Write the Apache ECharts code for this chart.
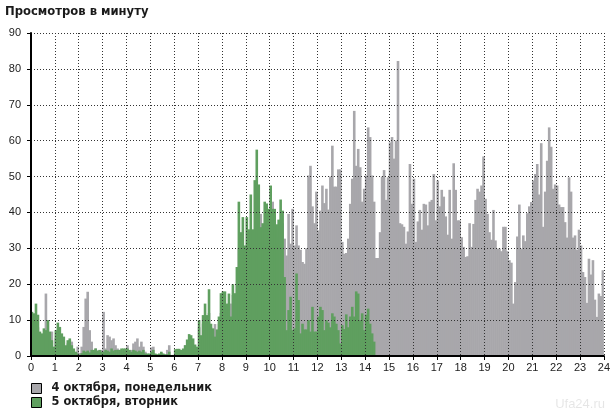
<!DOCTYPE html>
<html><head><meta charset="utf-8">
<script src="https://cdn.jsdelivr.net/npm/echarts@6/dist/echarts.min.js"></script>
<style>html,body{margin:0;padding:0;background:#fff}#c{width:613px;height:417px}</style>
</head><body><div id="c"></div>
<script>
const titleText = 'Просмотров в минуту';
const seriesNames = ['4 октября, понедельник', '5 октября, вторник'];
const hourLabels = ['0','1','2','3','4','5','6','7','8','9','10','11','12','13','14','15','16','17','18','19','20','21','22','23','24'];
const yTicks = [0,10,20,30,40,50,60,70,80,90];

// 5-minute slots, 12 per hour
const monday = [
 10,9,11,8,5,5,6,17.4,10,6,6.8,2,
 5,7,6,5,4,2.5,3.5,4.5,4,1.8,1,2.6,
 0.8,2.6,8.1,16,17.9,7.2,4,1.5,2.1,1.5,1.2,1.7,
 12.3,2.1,5.8,5.4,4.4,4.9,3.0,2.1,1.7,1.5,1.2,1.5,
 3.0,1.5,1.7,3.5,4.0,4.9,2.6,4.0,2.6,1.2,0.5,0.5,
 2.4,2.6,0.5,0.3,0.5,1.0,0.5,0.3,1.7,3.0,0.2,0.2,
 1.5,1.5,1.5,1.2,1.5,3.0,3,4,4,3,2.5,2,
 8,5,9,10,9,12,8,7,8.9,6,9,12,
 12,14,12,14.6,14.6,17,15,20,30,28,30,27,
 30,30,32,33,35,38,35,39.6,33,36,35,34,
 40,43,38,33,35,38,37,32.7,28,39.6,31.3,41,
 30.8,36.4,30.8,29.6,26.2,25.7,30,50.3,53,41.7,37,45.8,
 35,40.5,47.5,42.6,46.6,40.8,50,58.6,47.2,47.2,52,52,
 31.8,28.5,28.7,32.7,42.4,49.4,68.3,53,57.7,52.6,43,46.6,
 50.3,63.7,61,50.3,43,27.3,27.3,34.5,50,51.8,43.5,49.8,
 59.5,61,55,60,82.2,37,36.7,36,31.3,34.7,53.5,42.4,
 49.4,31.8,37.5,40.7,35.2,42.4,42.2,36.4,43,43.5,50.7,37.8,
 48.9,41.7,46.3,44.4,38.9,33.8,46.3,32.7,53.7,46.3,37.8,37.8,
 33.1,30.4,27.6,27.8,37,30.4,36.8,43.5,46.6,45.8,47.5,55.6,
 43.8,39.6,34.5,32.4,40.7,32.2,29.9,29.9,29.2,36,36,29.2,
 26.7,26,14.6,20.6,33.3,42.2,29.9,33.6,32,39.8,41.7,42.9,
 48.9,50.7,53.5,45,59.3,36,45.8,54.4,63.7,58.3,46.6,47.8,
 47.5,42.2,41.5,41.5,37.3,33,49.8,45.8,33,33.6,29.6,35.2,
 30.8,23.4,22,14.8,27.1,22.7,26.7,15.7,10.9,17.4,16.7,23.9
];
const tuesday = [
 12.3,11.9,14.6,11.5,6.8,6.3,7.7,7.2,10,6.8,4.4,2.6,
 7.2,9.3,8.1,6.3,5.4,3,4.4,4.9,3,2.1,1.2,0.7,
 0.3,0.8,1.5,1.2,1.5,1.0,1.7,1.7,2.1,1.5,1.7,1.2,
 1.2,1.7,1.5,1.2,2.1,1.5,1.7,1.7,1.7,2.1,2.1,2.1,
 2.1,1.7,1.2,1.7,1.5,1.2,1.5,1.2,1.7,0.7,0.7,0.7,
 1.2,1.7,0.7,0.5,0.7,1.2,0.7,0.5,0.5,1.2,0.3,0.3,
 1.9,2.0,2.0,1.7,2.1,3.0,4.6,6.1,5.8,4.9,3.2,2.6,
 10,5.8,11.4,14.6,11.4,18.6,9,7.7,5.4,7.4,11,17.5,
 18,18,14.6,17.4,11,20,17.5,24.8,43,34.5,38.7,30.8,
 38.7,35.3,45,35.3,49,57.5,47.8,35.9,37,43,42.5,41,
 47.5,41,41,36.7,38,43.6,40.5,22,7.2,12.8,16.5,7.2,
 7.7,23,15.6,6.3,9,7.4,7.4,10,6.8,13.7,6.8,6.8,
 11,13.7,12.8,7.2,10,9.3,8,11.9,11,9,7.2,3.5,
 8.6,7.5,11.6,8,11,13.7,11,18,17.4,10,11.9,7.2,
 11.5,13.2,9,6.3,4
];

const slots = [];
for (let h = 0; h < 24; h++) for (let m = 0; m < 60; m += 5)
  slots.push(String(h).padStart(2,'0') + ':' + String(m).padStart(2,'0'));

const grayC = '#a8a7ab', greenC = '#5f9f5f';
const labelFont = {fontFamily: 'Liberation Sans, Arial, sans-serif', fontSize: 11, color: '#222'};
const dotted = {color: '#333', width: 1, type: [1, 2]};

const chart = echarts.init(document.getElementById('c'), null, {renderer: 'canvas'});
chart.setOption({
  animation: false,
  backgroundColor: '#fff',
  title: {text: titleText, left: 5, top: 6, padding: 0,
    textStyle: {fontFamily: 'DejaVu Sans, Verdana, sans-serif', fontSize: 11.6, fontWeight: 'bold', color: '#1a1a1a'}},
  legend: {orient: 'vertical', left: 31, top: 383, padding: 0, itemWidth: 10, itemHeight: 10, itemGap: 3,
    icon: 'rect', data: seriesNames,
    itemStyle: {borderColor: '#000', borderWidth: 1},
    textStyle: {fontFamily: 'DejaVu Sans, Verdana, sans-serif', fontSize: 11.4, fontWeight: 'bold', color: '#1a1a1a', padding: [0,0,0,5]}},
  grid: {left: 31, right: 6, top: 33, bottom: 61},
  xAxis: [
    {type: 'category', data: slots, show: false, boundaryGap: true},
    {type: 'value', min: 0, max: 24, interval: 1, position: 'bottom', z: 5,
     axisLine: {show: true, lineStyle: {color: '#000', width: 2}},
     axisTick: {show: true, length: 4, lineStyle: {color: '#000'}},
     axisLabel: Object.assign({margin: 6, formatter: v => hourLabels[v]}, labelFont),
     splitLine: {show: true, lineStyle: dotted}}
  ],
  yAxis: {type: 'value', min: yTicks[0], max: yTicks[yTicks.length-1], interval: 10, z: 5,
    axisLine: {show: true, lineStyle: {color: '#000', width: 2}},
    axisTick: {show: true, length: 4, lineStyle: {color: '#000'}},
    axisLabel: Object.assign({margin: 10}, labelFont),
    splitLine: {show: true, lineStyle: dotted}},
  series: [
    {name: seriesNames[0], type: 'bar', xAxisIndex: 0, data: monday, barWidth: 2.6, barGap: '-100%',
     itemStyle: {color: grayC}, z: 2, emphasis: {disabled: true}},
    {name: seriesNames[1], type: 'bar', xAxisIndex: 0, data: tuesday, barWidth: 2.6, barGap: '-100%',
     itemStyle: {color: greenC}, z: 3, emphasis: {disabled: true}}
  ],
  graphic: [{type: 'text', right: 8, top: 398, z: 10,
    style: {text: 'Ufa24.ru', font: '13px Liberation Sans, Arial, sans-serif', fill: 'rgba(0,0,0,0.10)'}}]
});
</script></body></html>
